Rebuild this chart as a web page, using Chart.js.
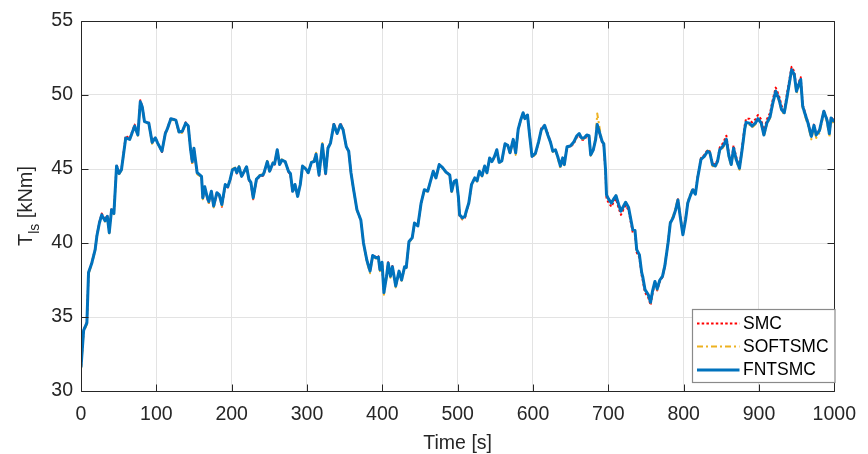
<!DOCTYPE html>
<html><head><meta charset="utf-8">
<script src="https://cdn.jsdelivr.net/npm/chart.js@4.4.0/dist/chart.umd.min.js"></script>
<style>html,body{margin:0;padding:0;background:#fff;} #wrap{width:868px;height:454px;}</style>
</head><body><div id="wrap"><canvas id="c" width="868" height="454"></canvas></div>
<script>
const time = [
0,3.5,7.8,10,14.4,18.8,21,24.4,27.5,31.9,
34.9,37.5,40.6,43.7,47.2,50.6,53.7,59.4,64.6,71.2,
75.5,78.7,81.3,84.3,90,94.4,98.7,101.8,107.5,111.9,
114.9,119.3,125.9,130.2,134.5,139,142.4,145.5,147.7,149.9,
154.2,160,161.7,164.3,167.3,169.6,173.1,176.1,180.4,183.6,
187,191.5,194.9,198,201,204.6,206.8,209.8,213.2,216.8,
219.8,222.9,225.5,228.6,232.9,237.3,241.7,243,247.3,250.4,
254.8,257,260.5,263.6,266.6,271,275.4,278,281,284.1,
287.6,291.1,294.1,298.5,301.6,305.9,309.4,312.1,316,320.4,
324.7,327.8,331.2,335.7,340,344.4,347.9,352.2,355.4,358.4,
361.9,366.3,371.5,375,379.4,383.7,387.2,391.6,394.7,396.8,
399.6,402.1,405.6,407.8,410.8,413.4,417.8,422.2,425.6,429.6,
431.8,435.4,439.7,442.7,447.1,451.5,455.8,460.3,464.6,467.6,
471.2,475.5,480,484.3,489.5,492.1,495.2,498.3,500.9,502.6,
506.2,509.7,511.4,514.8,518.4,522.7,525.8,528.9,532.4,535.8,
538.9,542.4,545.5,548.5,552,555,558.6,562.9,566.5,569.5,
573.8,577,580.4,583.9,586.9,589.2,592.7,595.7,598.7,603.2,
607.5,611,615.4,619.7,623.3,626.3,629.8,632.8,636.4,639.4,
641.6,645.2,649.6,653.9,658.3,661.3,664.3,667.8,671.4,674.4,
676.6,680.1,683.2,685.3,689.3,691.9,694,696.3,697.6,700.6,
704.2,706.8,710.2,713.7,716.8,720.3,723,726.9,729.1,732.5,
735.4,737.7,741.3,744.3,745.6,748.7,753.1,756.1,758.7,761.9,
764.9,768.4,771.9,775,779.3,782.3,785.9,789.4,792.4,795.4,
799,802.5,805.5,808.5,812.1,815.6,818.6,823,827.4,831.8,
834.8,838.3,841.9,844.9,847.9,852.3,856.7,860.2,863.2,866.3,
869.8,874.1,877.6,881.2,882.9,887.2,890.7,895.1,898.6,903,
906.5,910.4,914.8,917.9,922.2,926.6,930.1,933.6,936.7,939.7,
943.3,946.8,949.8,952.8,955.4,958,961.6,965.1,969.5,973,
976,980.3,986.1,990.4,993.4,995.7,1000
];
const fntsmc = [
31.6,34.1,34.6,38.0,38.65,39.55,40.45,41.35,41.9,41.5,
41.8,40.7,42.25,42.0,45.2,44.7,44.95,47.1,47.0,47.9,
47.3,49.55,49.2,48.2,48.1,46.8,47.1,46.75,46.2,47.4,
47.75,48.4,48.3,47.5,47.55,48.1,47.9,46.3,45.5,46.4,
44.75,44.5,43.05,43.8,43.15,42.8,43.5,42.5,43.4,43.25,
42.6,43.95,43.8,44.3,44.95,45.05,44.75,45.15,44.5,44.85,
45.15,44.3,44.1,43.05,44.3,44.55,44.6,44.75,45.5,44.85,
45.4,45.35,46.3,45.3,45.6,45.5,44.85,44.7,43.5,43.95,
43.15,43.95,45.2,45.0,44.75,45.45,45.5,46.0,44.6,46.65,
44.7,46.4,46.75,48.0,47.4,48.0,47.65,46.5,46.2,44.75,
43.6,42.25,41.55,40.0,38.85,38.1,39.15,39.0,39.05,38.2,
38.7,36.65,37.75,38.65,37.75,38.4,37.1,38.1,37.5,38.4,
38.35,40.1,40.35,41.35,41.15,42.7,43.6,43.5,44.3,44.85,
44.4,45.3,45.1,44.8,44.6,43.5,44.15,44.25,43.15,41.9,
41.7,41.8,42.15,42.7,43.95,44.4,44.2,44.85,44.55,45.2,
44.75,45.75,45.5,45.8,46.3,45.45,45.55,46.7,46.6,46.1,
47.0,46.1,47.7,48.35,48.8,48.4,48.65,47.2,45.85,46.05,
46.85,47.65,47.95,47.3,46.8,46.2,46.3,45.85,45.2,45.75,
45.3,46.5,46.55,46.8,47.25,47.4,47.1,47.1,47.3,47.25,
45.95,46.3,47.0,48.0,47.3,46.85,46.7,44.95,43.25,42.95,
42.7,42.95,43.2,42.6,42.15,42.5,42.75,42.4,41.8,40.9,
40.85,39.55,39.2,38.0,37.75,36.85,36.5,36.0,36.75,37.4,
36.9,37.5,37.75,38.45,40.0,41.35,41.7,42.25,42.9,41.8,
40.55,41.55,42.7,43.15,43.6,43.3,44.4,45.65,45.85,46.2,
46.1,45.3,45.2,45.5,46.3,46.55,47.0,45.85,45.3,46.4,
45.65,45.05,46.3,47.75,48.15,48.1,47.9,48.1,48.4,48.1,
47.3,48.1,48.55,49.35,50.25,49.7,49.0,48.8,49.7,50.6,
51.7,51.4,50.25,50.7,51.05,49.25,48.65,48.1,47.2,47.95,
47.3,47.6,48.9,48.3,47.4,48.45,48.2
];
const smc = [
31.65,34.15,34.65,38.0,38.7,39.6,40.5,41.4,42.0,41.55,
41.9,40.75,42.35,42.05,45.3,44.75,45.0,47.25,47.05,48.0,
47.35,49.65,49.25,48.2,48.15,46.8,47.15,46.75,46.15,47.45,
47.8,48.45,48.3,47.45,47.5,48.15,47.9,46.25,45.4,46.4,
44.7,44.45,42.95,43.8,43.05,42.7,43.45,42.4,43.35,43.2,
42.45,43.9,43.75,44.25,44.95,45.05,44.7,45.15,44.45,44.85,
45.15,44.25,44.0,42.95,44.25,44.5,44.55,44.7,45.5,44.8,
45.4,45.3,46.3,45.25,45.6,45.5,44.8,44.6,43.4,43.9,
43.1,43.95,45.2,45.0,44.7,45.45,45.5,46.05,44.55,46.7,
44.65,46.45,46.8,48.1,47.45,48.1,47.7,46.5,46.2,44.75,
43.6,42.25,41.55,40.0,38.85,38.1,39.2,39.05,39.1,38.2,
38.7,36.7,37.8,38.7,37.75,38.45,37.1,38.1,37.5,38.4,
38.35,40.1,40.35,41.35,41.15,42.7,43.6,43.5,44.3,44.85,
44.4,45.3,45.1,44.8,44.6,43.5,44.15,44.25,43.1,41.85,
41.6,41.7,42.1,42.7,43.95,44.4,44.2,44.85,44.55,45.2,
44.75,45.75,45.5,45.8,46.3,45.45,45.55,46.7,46.6,46.05,
47.0,46.05,47.7,48.35,48.8,48.4,48.65,47.3,45.85,46.0,
46.85,47.75,47.95,47.4,46.8,46.25,46.3,45.85,45.25,45.75,
45.3,46.5,46.5,46.7,47.15,47.3,47.0,46.95,47.2,47.15,
45.95,46.3,47.05,47.85,47.2,46.8,46.55,44.7,43.0,42.7,
42.45,42.75,43.0,42.35,41.9,42.3,42.55,42.2,41.6,40.7,
40.65,39.35,39.0,37.8,37.5,36.65,36.3,35.8,36.6,37.3,
36.8,37.4,37.7,38.4,40.0,41.35,41.7,42.25,42.95,41.85,
40.6,41.6,42.75,43.2,43.7,43.4,44.5,45.75,45.95,46.3,
46.2,45.4,45.3,45.6,46.45,46.75,47.25,46.0,45.45,46.6,
45.8,45.15,46.5,48.0,48.4,48.4,48.15,48.35,48.65,48.35,
47.5,48.35,48.8,49.6,50.5,49.95,49.25,49.0,49.95,50.85,
51.9,51.6,50.4,50.85,51.2,49.35,48.75,48.15,47.25,48.0,
47.35,47.65,48.95,48.35,47.45,48.5,48.25
];
const softsmc = [
31.45,34.0,34.5,37.9,38.6,39.5,40.4,41.3,41.85,41.45,
41.75,40.65,42.2,41.95,45.15,44.65,44.9,47.05,46.95,47.85,
47.25,49.5,49.15,48.15,48.05,46.7,47.05,46.7,46.15,47.35,
47.7,48.35,48.25,47.4,47.45,48.05,47.85,46.2,45.4,46.35,
44.65,44.45,42.95,43.75,43.05,42.7,43.45,42.4,43.35,43.2,
42.5,43.95,43.8,44.3,45.0,45.1,44.75,45.2,44.5,44.9,
45.2,44.3,44.05,43.0,44.35,44.6,44.65,44.8,45.55,44.85,
45.45,45.4,46.35,45.35,45.65,45.55,44.85,44.7,43.5,43.95,
43.15,44.0,45.25,45.05,44.75,45.5,45.55,46.1,44.6,46.75,
44.7,46.45,46.8,48.05,47.45,48.05,47.7,46.5,46.15,44.7,
43.55,42.2,41.5,39.95,38.75,37.95,39.1,38.95,39.0,38.1,
38.6,36.5,37.65,38.55,37.65,38.3,37.0,38.05,37.45,38.35,
38.3,40.05,40.3,41.3,41.1,42.65,43.55,43.45,44.25,44.8,
44.35,45.25,45.05,44.75,44.55,43.45,44.1,44.2,43.1,41.85,
41.6,41.7,42.1,42.65,43.9,44.35,44.15,44.8,44.5,45.15,
44.7,45.7,45.45,45.75,46.25,45.4,45.5,46.65,46.55,46.0,
46.95,45.95,47.65,48.3,48.75,48.35,48.6,47.15,45.75,46.0,
46.8,47.6,47.9,47.25,46.75,46.15,46.25,45.75,45.05,45.7,
45.25,46.45,46.5,46.75,47.2,47.35,47.05,47.05,47.25,47.2,
45.9,46.3,47.2,48.75,47.5,46.9,46.7,44.95,43.25,42.95,
42.7,42.95,43.2,42.6,42.15,42.5,42.75,42.4,41.8,40.9,
40.8,39.5,39.15,37.95,37.7,36.8,36.45,35.95,36.7,37.35,
36.85,37.5,37.8,38.55,40.1,41.5,41.8,42.4,43.05,41.9,
40.6,41.65,42.8,43.25,43.65,43.35,44.45,45.7,45.9,46.25,
46.15,45.2,45.1,45.4,46.2,46.45,46.9,45.75,45.2,46.3,
45.55,44.95,46.2,47.65,48.05,48.0,47.8,48.0,48.3,48.0,
47.2,48.0,48.45,49.25,50.15,49.6,48.9,48.7,49.6,50.5,
51.6,51.3,50.1,50.55,50.9,49.1,48.5,47.95,47.0,47.8,
47.1,47.45,48.75,48.15,47.15,48.3,48.05
];
const seriesNames = ['SMC','SOFTSMC','FNTSMC'];
const xTicks = [0,100,200,300,400,500,600,700,800,900,1000];
const yTicks = [30,35,40,45,50,55];
const xTitle = 'Time [s]';
const yTitleMain = 'T', yTitleSub = 'ls', yTitleUnit = ' [kNm]';

const FONT = "'Liberation Sans', Arial, Helvetica, sans-serif";
const pts = arr => time.map((t,i)=>({x:t, y:arr[i]}));

const decor = {
  id:'decor',
  afterDraw(chart){
    const {ctx, chartArea:a, scales:{x,y}} = chart;
    ctx.save();
    // box
    ctx.strokeStyle='#262626'; ctx.lineWidth=1; ctx.setLineDash([]);
    const L=Math.round(a.left)+0.5, T=Math.round(a.top)+0.5, R=Math.round(a.right)+0.5, B=Math.round(a.bottom)+0.5;
    ctx.beginPath();
    ctx.moveTo(L,T); ctx.lineTo(R,T); ctx.lineTo(R,B); ctx.lineTo(L,B); ctx.closePath();
    xTicks.forEach(v=>{const px=Math.round(x.getPixelForValue(v))+0.5; ctx.moveTo(px,B); ctx.lineTo(px,B-7); ctx.moveTo(px,T); ctx.lineTo(px,T+7);});
    yTicks.forEach(v=>{const py=Math.round(y.getPixelForValue(v))+0.5; ctx.moveTo(L,py); ctx.lineTo(L+7,py); ctx.moveTo(R,py); ctx.lineTo(R-7,py);});
    ctx.stroke();

    // legend
    const lx=692.5, ly=309.5, lw=142.5, lh=73;
    ctx.fillStyle='#fff'; ctx.fillRect(lx,ly,lw,lh);
    ctx.strokeStyle='#8a8a8a'; ctx.lineWidth=1.2; ctx.strokeRect(lx,ly,lw,lh);
    const rows=[323.5,346.5,370];
    const dsOrder=[0,1,2];
    dsOrder.forEach((di,k)=>{
      const ds=chart.data.datasets[di];
      ctx.strokeStyle=ds.borderColor; ctx.lineWidth=ds.borderWidth; ctx.setLineDash(ds.borderDash||[]);
      ctx.beginPath(); ctx.moveTo(697,rows[k]); ctx.lineTo(739.5,rows[k]); ctx.stroke();
      ctx.setLineDash([]);
      ctx.fillStyle='#000'; ctx.font='17.5px '+FONT; ctx.textAlign='left'; ctx.textBaseline='middle';
      ctx.fillText(ds.label, 743, rows[k]+0.5);
    });

    // x title
    ctx.fillStyle='#262626'; ctx.font='19.5px '+FONT; ctx.textAlign='center'; ctx.textBaseline='alphabetic';
    ctx.fillText(xTitle, (a.left+a.right)/2, 449);

    // y title
    ctx.save();
    ctx.translate(31.5,(a.top+a.bottom)/2);
    ctx.rotate(-Math.PI/2);
    ctx.textAlign='left'; ctx.textBaseline='alphabetic';
    const fMain='20px '+FONT, fSub='14px '+FONT;
    ctx.font=fMain; const w1=ctx.measureText(yTitleMain).width, w3=ctx.measureText(yTitleUnit).width;
    ctx.font=fSub; const w2=ctx.measureText(yTitleSub).width;
    let sx=-(w1+w2+w3)/2;
    ctx.font=fMain; ctx.fillText(yTitleMain,sx,0); sx+=w1;
    ctx.font=fSub; ctx.fillText(yTitleSub,sx,7.5); sx+=w2;
    ctx.font=fMain; ctx.fillText(yTitleUnit,sx,0);
    ctx.restore();

    ctx.restore();
  }
};

new Chart(document.getElementById('c'), {
  type:'line',
  data:{ datasets:[
    {label:seriesNames[0], data:pts(smc), borderColor:'#ff0000', borderWidth:2, borderDash:[2.5,2.2], order:3},
    {label:seriesNames[1], data:pts(softsmc), borderColor:'#EDB120', borderWidth:2, borderDash:[6,3,2,3], order:2},
    {label:seriesNames[2], data:pts(fntsmc), borderColor:'#0072BD', borderWidth:3, order:1}
  ]},
  options:{
    responsive:false, animation:false, devicePixelRatio:1,
    layout:{padding:{left:0,right:25,top:21,bottom:0}},
    elements:{point:{radius:0}, line:{tension:0, borderCapStyle:'butt', borderJoinStyle:'round'}},
    plugins:{legend:{display:false}, tooltip:{enabled:false}},
    scales:{
      x:{type:'linear', min:0, max:1000,
        afterBuildTicks:s=>{s.ticks=xTicks.map(v=>({value:v}));},
        afterFit:s=>{s.height=63;},
        grid:{color:'#e3e3e3', lineWidth:1, drawTicks:false},
        border:{display:false},
        ticks:{padding:12, color:'#262626', font:{family:FONT,size:19.5}, maxRotation:0, autoSkip:false, callback:v=>String(v)}
      },
      y:{type:'linear', min:30, max:55,
        afterBuildTicks:s=>{s.ticks=yTicks.map(v=>({value:v}));},
        afterFit:s=>{s.width=81;},
        grid:{color:'#e3e3e3', lineWidth:1, drawTicks:false},
        border:{display:false},
        ticks:{padding:8, color:'#262626', font:{family:FONT,size:19.5}, callback:v=>String(v)}
      }
    }
  },
  plugins:[decor]
});
</script>
</body></html>
